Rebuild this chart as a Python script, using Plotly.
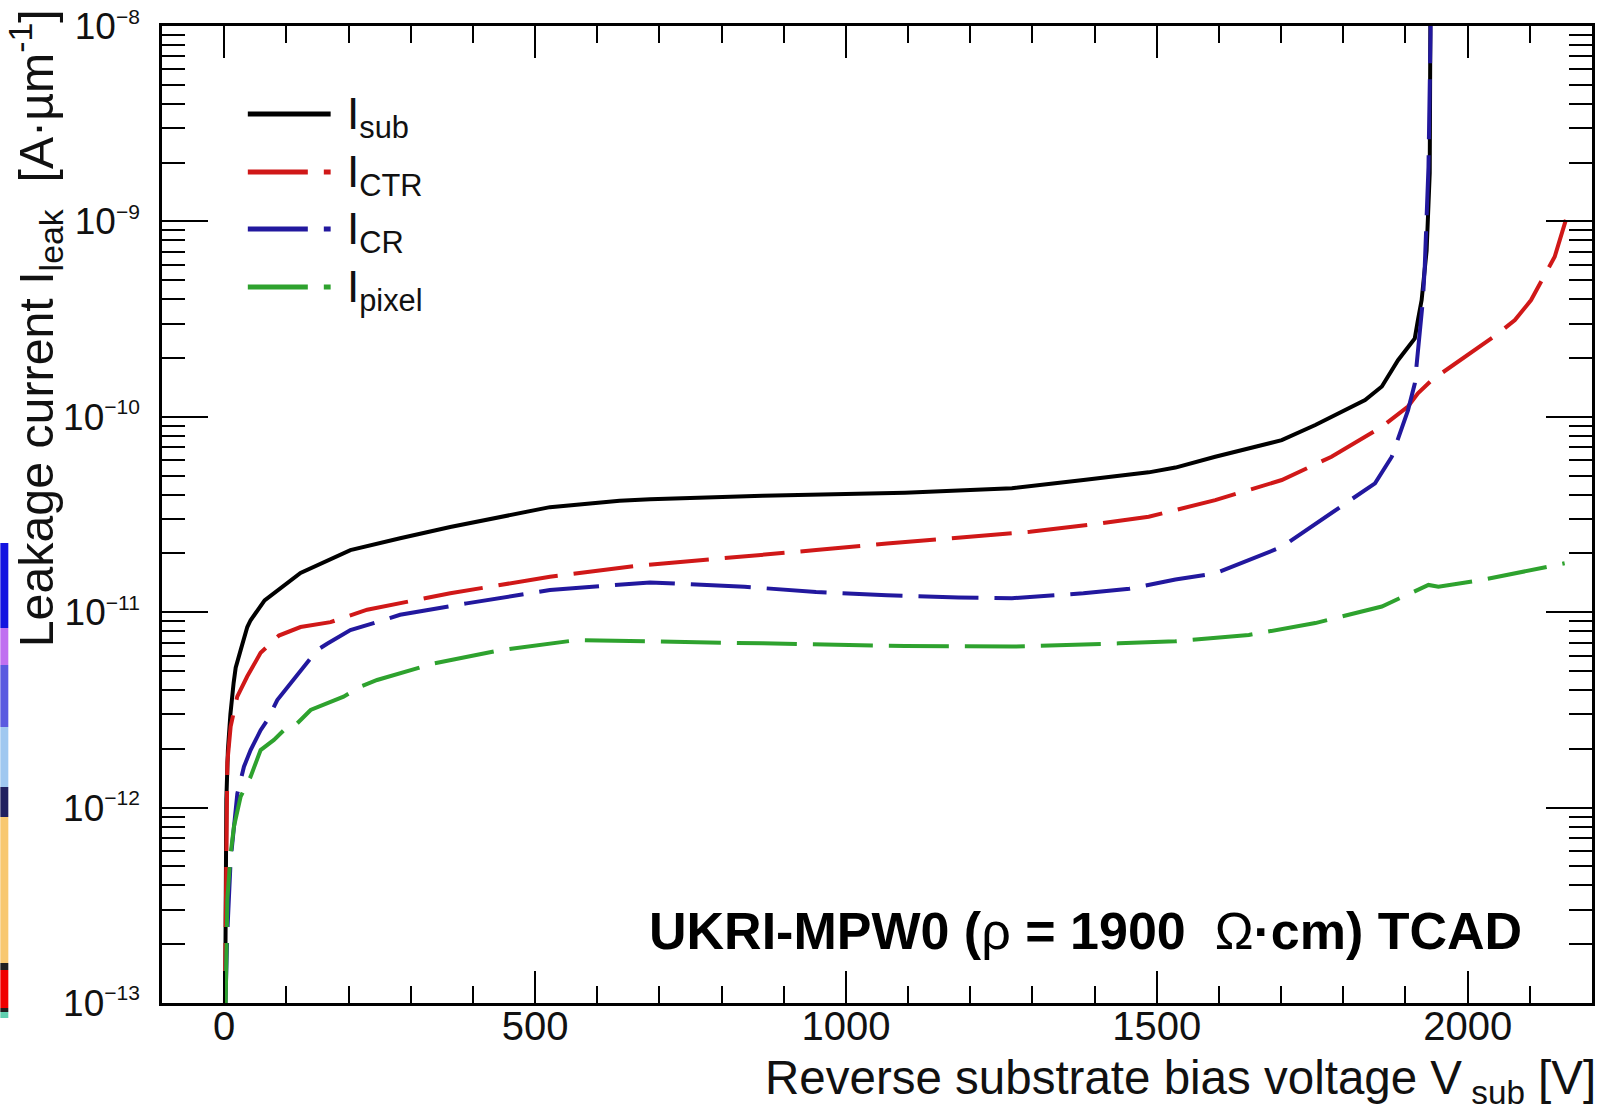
import plotly.graph_objects as go

# ---------------- data ----------------
V_sub = [1, 2, 2.8, 3.5, 6, 10, 15.2, 18.5, 26.5, 37.2, 42.5, 65, 122.8, 203, 283, 363.6, 524,
         636, 685, 866, 1095, 1267, 1382, 1487, 1530, 1594, 1701, 1755, 1835, 1862, 1888,
         1904, 1915, 1920, 1926, 1934, 1939, 1940, 1940.5]
I_sub = [5e-14, 2e-13, 5e-13, 1.1e-12, 1.97e-12, 3.0e-12, 4.35e-12, 5.2e-12, 6.4e-12, 8.4e-12,
         9.1e-12, 1.15e-11, 1.59e-11, 2.08e-11, 2.39e-11, 2.73e-11, 3.45e-11,
         3.72e-11, 3.79e-11, 3.95e-11, 4.09e-11, 4.31e-11, 4.75e-11, 5.2e-11, 5.5e-11, 6.25e-11,
         7.6e-11, 9.08e-11, 1.22e-10, 1.43e-10, 1.95e-10,
         2.29e-10, 2.52e-10, 3.13e-10, 3.96e-10, 7.1e-10, 1.77e-9, 1e-8, 3e-8]

V_ctr = [1.2, 2.4, 3.5, 5.1, 10.4, 18.5, 21, 37.2, 58.6, 88, 122.8, 171, 230, 363.6, 524, 665,
         808, 952, 1066, 1181, 1296, 1410, 1487, 1594, 1701, 1781, 1862, 1904, 1920, 1942,
         1995, 2049, 2076, 2102, 2140, 2150, 2158]
I_ctr = [1e-13, 3.4e-13, 7.4e-13, 1.7e-12, 2.6e-12, 3.4e-12, 3.7e-12, 4.7e-12, 6.2e-12, 7.6e-12,
         8.4e-12, 8.9e-12, 1.03e-11, 1.25e-11, 1.52e-11, 1.73e-11,
         1.89e-11, 2.08e-11, 2.25e-11, 2.41e-11, 2.58e-11, 2.85e-11, 3.08e-11, 3.75e-11, 4.75e-11,
         6.25e-11, 8.9e-11, 1.13e-10, 1.32e-10, 1.54e-10,
         2.03e-10, 2.67e-10, 3.13e-10, 3.96e-10, 6.6e-10, 8.4e-10, 1.02e-9]

V_cr = [2, 5.1, 10.4, 21.2, 31.8, 42.5, 58.6, 69.3, 85.4, 106.7, 149.6, 165.6, 203, 246, 283,
        390, 524, 685, 837, 952, 1066, 1181, 1267, 1382, 1456, 1530, 1594, 1701, 1781, 1851,
        1878, 1904, 1915, 1923, 1928, 1931, 1937, 1940.3, 1940.8]
I_cr = [1e-13, 2.3e-13, 5.4e-13, 1.18e-12, 1.62e-12, 1.97e-12, 2.49e-12, 2.8e-12, 3.55e-12,
        4.3e-12, 6.4e-12, 6.9e-12, 8.1e-12, 8.9e-12, 9.7e-12,
        1.11e-11, 1.3e-11, 1.42e-11, 1.35e-11, 1.27e-11, 1.22e-11, 1.19e-11, 1.18e-11, 1.25e-11,
        1.32e-11, 1.47e-11, 1.58e-11, 2.16e-11, 3.21e-11, 4.57e-11,
        6.25e-11, 1.08e-10, 1.48e-10, 2.67e-10, 3.96e-10, 5.86e-10, 1.9e-9, 9e-9, 3e-8]

V_pix = [2.4, 5.1, 10.4, 15.7, 26.5, 42.5, 58.6, 80, 96, 117.5, 139, 192, 219, 246, 337, 444,
         567, 685, 866, 1095, 1267, 1439, 1530, 1648, 1755, 1862, 1937, 1953, 2022, 2156]
I_pix = [1e-13, 3.4e-13, 5.8e-13, 8.0e-13, 1.14e-12, 1.44e-12, 1.97e-12, 2.22e-12, 2.49e-12,
         2.7e-12, 3.16e-12, 3.7e-12, 4.16e-12, 4.5e-12, 5.47e-12, 6.4e-12,
         7.2e-12, 7.06e-12, 6.93e-12, 6.72e-12, 6.67e-12, 6.93e-12, 7.1e-12, 7.65e-12, 8.8e-12,
         1.07e-11, 1.38e-11, 1.35e-11, 1.46e-11, 1.78e-11]

names = ["I<sub>sub</sub>", "I<sub>CTR</sub>", "I<sub>CR</sub>", "I<sub>pixel</sub>"]
colors = ["#000000", "#d01818", "#22189e", "#2ea22e"]
x_ticks = [0, 500, 1000, 1500, 2000]
y_exponents = [-13, -12, -11, -10, -9, -8]

# ---------------- layout helpers ----------------
W, H = 1600, 1114
L, R, T, B = 162, 1595, 26, 1003
FONT = "Liberation Sans, Arial, sans-serif"
DASH = "60px,16px"


def px(x):
    return (x - L) / (R - L)


def py(y):
    return (B - y) / (B - T)


fig = go.Figure()
data = [(V_sub, I_sub), (V_ctr, I_ctr), (V_cr, I_cr), (V_pix, I_pix)]
for k, (v, i) in enumerate(data):
    fig.add_trace(go.Scatter(
        x=v, y=i, mode="lines", name=names[k], showlegend=False,
        line=dict(color=colors[k], width=4, dash="solid" if k == 0 else DASH),
    ))

shapes = []
annotations = []

# manual legend (ROOT-style, long samples)
leg_y = [114, 172, 229, 287]
for k in range(4):
    shapes.append(dict(type="line", xref="paper", yref="paper",
                       x0=px(248), x1=px(331), y0=py(leg_y[k]), y1=py(leg_y[k]),
                       line=dict(color=colors[k], width=5,
                                 dash="solid" if k == 0 else DASH)))
    annotations.append(dict(text=names[k], xref="paper", yref="paper",
                            x=px(345), y=py(leg_y[k] - 27), xanchor="left", yanchor="top",
                            showarrow=False, font=dict(size=44, color="#111", family=FONT)))

# label inside the frame
annotations.append(dict(
    text="<b>UKRI-MPW0 (</b>ρ<b> = 1900&nbsp;&nbsp;</b>Ω<b>·cm) TCAD</b>",
    xref="paper", yref="paper", x=px(1527), y=py(931), xanchor="right", yanchor="middle",
    showarrow=False, font=dict(size=52, color="#000", family=FONT)))

# axis titles (ROOT places them at the axis end)
annotations.append(dict(
    text="Reverse substrate bias voltage V<sub>&nbsp;sub</sub> [V]",
    xref="paper", yref="paper", x=1.0, y=py(1049), xanchor="right", yanchor="top",
    xshift=6, showarrow=False, font=dict(size=47.5, color="#111", family=FONT)))
annotations.append(dict(
    text="Leakage current I<sub>leak</sub>&nbsp;&nbsp;[A·µm<sup>-1</sup>]",
    xref="paper", yref="paper", x=px(35), y=py(7), xanchor="center", yanchor="top",
    textangle=-90, showarrow=False, font=dict(size=48.3, color="#111", family=FONT)))

# cropped strip of a neighbouring figure at the left edge
strip = [(543, 628, "#1414e0"), (628, 665, "#c070f0"), (665, 727, "#5a5ae0"),
         (727, 787, "#a0c8f0"), (787, 817, "#202060"), (817, 963, "#f8c870"),
         (963, 970, "#202020"), (970, 1008, "#f00000"), (1008, 1012, "#202020"),
         (1012, 1018, "#60d0b0")]
for y0, y1, c in strip:
    shapes.append(dict(type="rect", xref="paper", yref="paper", x0=px(0), x1=px(8),
                       y0=py(y1), y1=py(y0), line=dict(width=0), fillcolor=c, layer="below"))

axis_common = dict(showline=True, linecolor="#000", linewidth=2.5, mirror="allticks",
                   ticks="inside", tickcolor="#000", tickwidth=2, showgrid=False,
                   zeroline=False)

y_tickvals = [10.0 ** e for e in y_exponents]
y_ticktext = ["10<sup><span style='font-size:21px'>−%d</span></sup>" % (-e) for e in y_exponents]

fig.update_layout(
    width=W, height=H,
    margin=dict(l=L, r=W - R, t=T, b=H - B),
    paper_bgcolor="white", plot_bgcolor="white",
    font=dict(family=FONT, color="#111"),
    shapes=shapes, annotations=annotations,
    xaxis=dict(range=[-100, 2200], tickvals=x_ticks, ticklen=32,
               minor=dict(dtick=100, tick0=0, ticks="inside", ticklen=17, tickwidth=2,
                          tickcolor="#000", showgrid=False),
               tickfont=dict(size=40, family=FONT, color="#111"), ticklabelstandoff=-14,
               **axis_common),
    yaxis=dict(type="log", range=[-13, -7.9995], tickvals=y_tickvals, ticktext=y_ticktext,
               ticklen=46,
               minor=dict(dtick="D1", ticks="inside", ticklen=23, tickwidth=2,
                          tickcolor="#000", showgrid=False),
               tickfont=dict(size=37, family=FONT, color="#111"), ticklabelstandoff=12,
               **axis_common),
)

fig.write_html("out.html")
